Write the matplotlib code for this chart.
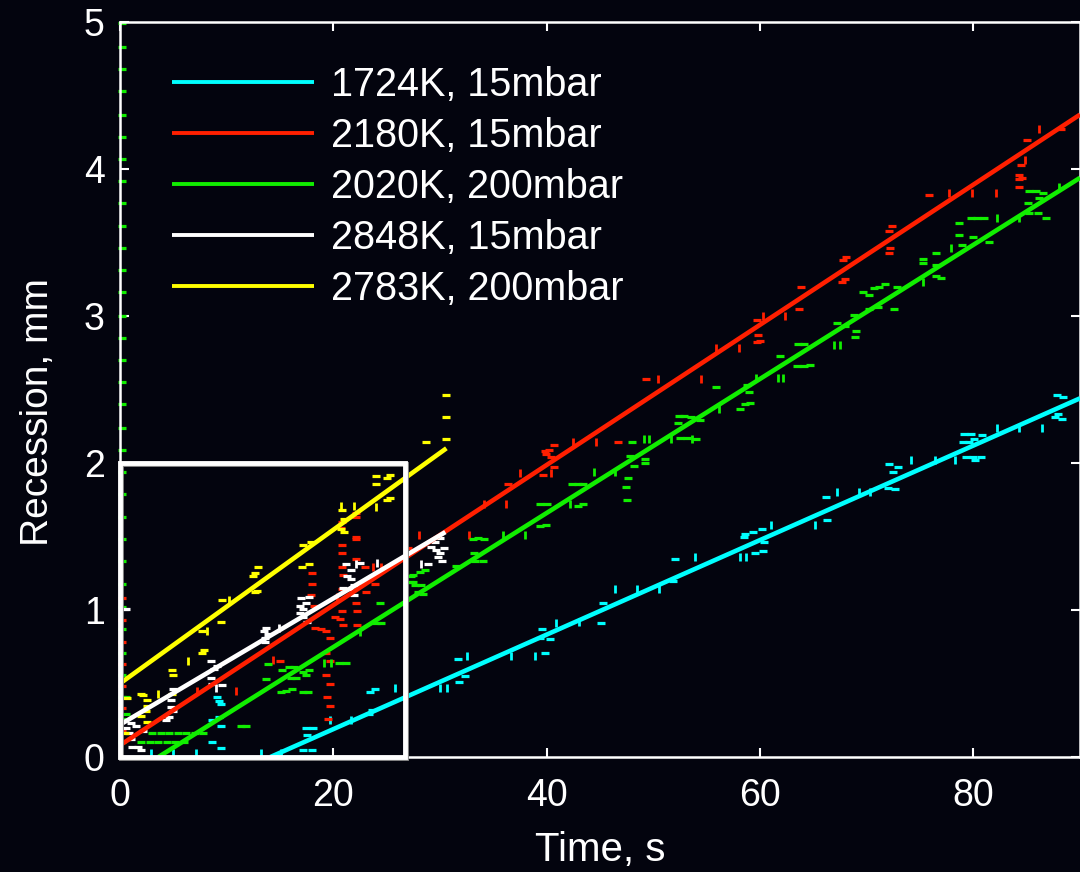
import numpy as np
import matplotlib.pyplot as plt
from matplotlib.patches import Rectangle

plt.rcParams['font.family'] = ['Liberation Sans', 'DejaVu Sans']

BG = '#03040e'

labels = ['1724K, 15mbar', '2180K, 15mbar', '2020K, 200mbar',
          '2848K, 15mbar', '2783K, 200mbar']
colors = ['#00ffff', '#ff1f00', '#11ee00', '#ffffff', '#ffff00']

# linear fits (end points)
cyan_fit_x = [14.1, 90.0]
cyan_fit_y = [0.0, 2.44]
red_fit_x = [0.0, 90.0]
red_fit_y = [0.08, 4.37]
green_fit_x = [3.6, 90.0]
green_fit_y = [0.0, 3.94]
white_fit_x = [0.0, 30.5]
white_fit_y = [0.22, 1.53]
yellow_fit_x = [0.0, 30.6]
yellow_fit_y = [0.50, 2.10]

# measured edge positions, h = horizontal dash, v = vertical tick
cyan_x = [2.9, 5.0, 7.1, 8.6, 9.5, 8.6, 9.3, 9.5, 9.1, 9.3, 9.5,
          13.2, 15.1, 17.2, 18.0, 17.4, 18.1, 17.5,
          19.7, 21.7, 23.3, 23.6, 23.4, 23.9, 25.8,
          30.0, 30.7, 31.7, 32.5, 32.3, 31.8,
          36.7, 38.9, 39.8, 40.3, 39.6, 39.4,
          40.9, 43.0, 45.1, 45.3, 46.4, 48.5, 50.5, 51.8, 52.0, 53.9,
          58.1, 58.7, 59.5, 60.3, 60.4, 58.5, 58.6, 59.3, 60.2, 61.0,
          65.2, 66.3, 66.2, 67.2, 69.3, 70.3, 72.0, 72.7, 72.1, 72.9, 72.5,
          74.2, 76.4, 78.3, 79.3, 80.0, 80.7, 80.2, 79.1, 79.8, 80.8, 80.1, 79.0, 79.6,
          82.2, 84.3, 86.4, 87.8, 88.4, 87.9, 88.3, 87.7]
cyan_y = [0.03, 0.03, 0.03, 0.10, 0.06, 0.25, 0.27, 0.21, 0.41, 0.38, 0.36,
          0.03, 0.03, 0.05, 0.05, 0.20, 0.20, 0.15,
          0.25, 0.25, 0.29, 0.32, 0.44, 0.46, 0.47,
          0.47, 0.47, 0.67, 0.69, 0.55, 0.51,
          0.69, 0.69, 0.71, 0.80, 0.87, 0.81,
          0.91, 0.92, 0.91, 1.05, 1.14, 1.14, 1.14, 1.20, 1.35, 1.36,
          1.36, 1.36, 1.39, 1.40, 1.46, 1.50, 1.52, 1.53, 1.55, 1.58,
          1.58, 1.61, 1.77, 1.80, 1.80, 1.80, 1.83, 1.82, 1.99, 1.97, 1.94,
          2.02, 2.02, 2.02, 2.04, 2.04, 2.04, 2.02, 2.20, 2.20, 2.19, 2.16, 2.14, 2.14,
          2.24, 2.24, 2.24, 2.46, 2.45, 2.33, 2.30, 2.31]
cyan_kind = ('vvvhhhhhhhh' 'vvhhhhh' 'vvhhhhv' 'vvhvhh' 'vvhhhh'
             'vvhhvvvhhv' 'vvhhhhhhhv' 'vhhvvvhhhhh'
             'vvvhhhhhhhhhh' 'vvvhhhhh')

red_x = [0.2, 0.2, 0.2, 0.2, 0.2, 0.2, 0.2,
         7.2, 10.9, 14.3, 15.0,
         19.3, 19.7, 19.3, 19.7, 19.4, 19.7, 19.5,
         22.1, 22.1, 20.8, 20.7, 22.1, 22.1, 20.8, 20.8, 22.1, 20.8,
         18.0, 18.0, 20.9, 23.0, 23.7, 24.5, 23.9, 23.1, 22.1, 22.2,
         20.8, 20.8, 20.2, 20.6, 20.9, 22.2, 17.9, 18.2, 18.3, 18.8,
         19.3, 19.7, 20.3, 27.0,
         28.0, 32.7, 34.1, 36.2, 36.4, 37.5, 39.7, 40.4, 40.7, 39.8,
         40.2, 40.7, 39.9, 40.4, 42.5, 44.6, 46.7, 49.3, 50.4, 54.5,
         55.9, 58.0, 59.7, 60.0, 59.8, 59.7, 60.3, 62.3, 63.7, 63.8,
         67.7, 68.0, 67.8, 68.1, 72.1, 72.2, 72.1, 72.4, 75.8, 77.7,
         79.9, 82.1, 84.3, 84.3, 84.6, 84.3, 84.8, 84.5, 85.0, 86.2, 88.2]
red_y = [1.08, 0.93, 0.78, 0.63, 0.48, 0.33, 0.18,
         0.45, 0.45, 0.66, 0.65,
         0.71, 0.65, 0.56, 0.50, 0.41, 0.35, 0.26,
         1.66, 1.63, 1.60, 1.56, 1.50, 1.48, 1.44, 1.39, 1.35, 1.29,
         1.25, 1.18, 1.24, 1.29, 1.29, 1.29, 1.18, 1.12, 1.05, 0.99,
         0.99, 1.14, 0.95, 0.94, 0.90, 0.90, 1.10, 1.03, 0.88, 0.87,
         0.86, 0.81, 1.09, 1.42,
         1.51, 1.51, 1.72, 1.72, 1.86, 1.93, 1.92, 1.93, 1.97, 2.08,
         2.09, 2.12, 2.06, 2.04, 2.14, 2.14, 2.14, 2.57, 2.57, 2.57,
         2.78, 2.78, 2.82, 2.83, 2.87, 2.97, 3.00, 3.00, 3.05, 3.20,
         3.23, 3.25, 3.38, 3.40, 3.43, 3.46, 3.58, 3.61, 3.82, 3.84,
         3.84, 3.84, 3.88, 3.93, 3.94, 3.96, 4.06, 4.03, 4.20, 4.27, 4.27]
red_kind = ('hhhhhhh' 'vvvh' 'hhhhhhh' 'hhhhhhhhhh' 'hhhhvvhhhh'
            'hhhhhhhhhh' 'hhvh' 'vvvvhvhvhh' 'hhhhvvhhvv'
            'vvhhhhvvhh' 'hhhhhhhhhv' 'vvhhhhvhhvh')

green_x = [0.2] * 33 + [
    3.0, 3.8, 4.6, 5.4, 6.2, 7.0, 7.8, 2.0, 2.8, 3.6, 4.4, 5.2, 6.0,
    0.6, 0.6, 11.3, 11.8,
    13.9, 15.2, 15.8, 16.3, 17.2, 17.7, 17.4, 16.0, 16.5, 13.7,
    15.1, 15.6, 16.1, 17.2, 17.6, 19.1, 19.8, 20.5, 21.2,
    24.4, 24.0, 24.5, 22.5, 27.5, 27.5,
    33.1, 33.6, 34.1, 35.9, 38.0, 33.2, 33.3, 34.0, 31.5, 28.1,
    28.6, 27.3, 27.2, 27.7, 28.2, 27.9, 28.4,
    39.4, 39.9, 39.4, 40.0, 42.2, 42.9, 43.4, 42.4, 42.9, 43.4,
    44.4, 46.4, 47.5, 47.4, 47.6, 48.2, 49.2, 49.2, 47.8, 48.0,
    49.1, 49.6, 51.7, 52.5, 53.2, 53.6, 54.0, 52.4, 52.9, 52.3,
    53.5, 54.4, 56.2, 55.9,
    58.1, 58.6, 59.1, 59.0, 58.8, 59.6, 61.7, 62.2, 61.9, 63.5,
    64.1, 64.7, 63.6, 64.1, 66.9, 67.5, 67.2, 68.0, 68.9, 69.0,
    68.8, 70.2, 71.1, 72.6, 69.7, 70.2, 70.7, 71.2, 71.7, 72.8,
    75.3, 76.5, 77.0, 75.3, 75.3, 76.5, 77.9, 76.5, 78.7, 78.9,
    80.0, 81.5, 78.7, 79.8, 80.3, 81.0, 82.2, 84.3, 85.2, 86.1,
    86.8, 85.1, 86.2, 85.2, 85.9, 86.5, 88.0]
green_y = [4.99, 4.83, 4.68, 4.53, 4.37, 4.22, 4.07, 3.92, 3.77, 3.61, 3.46,
           3.31, 3.16, 3.00, 2.85, 2.70, 2.55, 2.40, 2.24, 2.09, 1.94, 1.79,
           1.63, 1.48, 1.33, 1.18, 1.02, 0.87, 0.71, 0.56, 0.41, 0.26, 0.10] + [
    0.16, 0.16, 0.16, 0.16, 0.16, 0.16, 0.16, 0.10, 0.10, 0.10, 0.10, 0.10, 0.10,
    0.41, 0.29, 0.21, 0.21,
    0.63, 0.59, 0.61, 0.61, 0.58, 0.59, 0.56, 0.54, 0.54, 0.53,
    0.44, 0.45, 0.46, 0.44, 0.44, 0.64, 0.64, 0.64, 0.64,
    1.05, 0.91, 0.91, 0.85, 1.24, 1.19,
    1.48, 1.49, 1.48, 1.51, 1.51, 1.39, 1.33, 1.33, 1.30, 1.26,
    1.27, 1.23, 1.19, 1.17, 1.17, 1.12, 1.11,
    1.57, 1.58, 1.72, 1.72, 1.72, 1.71, 1.72, 1.86, 1.86, 1.86,
    1.94, 1.94, 1.75, 1.84, 1.90, 1.98, 2.00, 2.03, 2.05, 2.14,
    2.16, 2.16, 2.16, 2.17, 2.17, 2.16, 2.16, 2.32, 2.32, 2.27,
    2.31, 2.29, 2.37, 2.52,
    2.37, 2.40, 2.41, 2.48, 2.53, 2.58, 2.58, 2.58, 2.73, 2.66,
    2.66, 2.67, 2.81, 2.81, 2.80, 2.80, 2.95, 2.93, 2.86, 2.90,
    3.01, 3.05, 3.06, 3.05, 3.16, 3.14, 3.19, 3.20, 3.22, 3.20,
    3.23, 3.27, 3.26, 3.36, 3.39, 3.43, 3.46, 3.35, 3.55, 3.48,
    3.54, 3.50, 3.63, 3.67, 3.67, 3.67, 3.67, 3.67, 3.70, 3.70,
    3.67, 3.77, 3.80, 3.85, 3.85, 3.84, 3.88]
green_kind = 'h' * 33 + ('hhhhhhhhhhhhh' 'hhhh' 'hhhhhhhhhh' 'hhhhhvvhh'
                         'hhhvhh' 'hhhvvhhhhh' 'hhhhhhh' 'hhhhvhhhhh'
                         'vvhhhhhhhh' 'vvvhhvhhhh' 'hhvh'
                         'hhhhhvvvhh' 'hhhhvvhhhh' 'hhhhhhhhhh'
                         'vhhhhhvhhh' 'hhhhhhvvhh' 'hhhhhhv')

white_x = [0.6, 1.0, 1.5, 2.2, 0.6, 0.8, 1.0, 1.1, 1.7, 2.0,
           4.3, 4.6, 5.0, 4.8, 4.8, 5.0,
           8.5, 9.1, 8.8, 8.5, 8.6, 9.0, 9.6,
           13.7, 13.5, 13.9, 13.6, 13.6, 14.9,
           17.0, 17.4, 16.9, 17.2, 16.9, 17.2, 17.5, 17.7,
           21.2, 21.7, 21.3, 21.7, 21.9, 22.1, 22.5, 24.1, 21.5, 20.9, 21.9,
           30.0, 29.5, 29.2, 29.6, 30.4, 30.0, 29.8, 30.2, 28.9, 28.2]
white_y = [1.01, 0.23, 0.21, 0.18, 0.20, 0.16, 0.12, 0.07, 0.07, 0.05,
           0.25, 0.27, 0.31, 0.34, 0.39, 0.46,
           0.65, 0.62, 0.60, 0.54, 0.50, 0.47, 0.49,
           0.88, 0.86, 0.84, 0.81, 0.78, 0.88,
           1.08, 1.05, 1.03, 1.01, 0.98, 0.95, 0.92, 1.09,
           1.31, 1.27, 1.23, 1.21, 1.17, 1.31, 1.32, 1.32, 1.14, 1.15, 1.10,
           1.49, 1.46, 1.43, 1.41, 1.42, 1.39, 1.36, 1.33, 1.31, 1.31]
white_kind = ('hhhhhhhhhh' 'hhhhhh' 'hhhhhvh' 'hhhhhv' 'hhhhhhhh'
              'hhhhhvhvhhh' 'hhhhhhhhhv')

yellow_x = [0.7, 0.5, 2.0, 2.2, 2.5, 2.5, 2.4, 2.0, 2.5, 3.6, 4.9, 4.9, 5.0,
            6.4, 7.7, 7.9, 7.7, 8.2, 9.5, 9.6, 10.2, 12.7, 12.7, 12.9,
            12.5, 12.8, 17.2, 17.9, 17.7, 17.1,
            20.7, 20.8, 21.9, 21.0, 20.7, 21.0, 24.0, 24.0, 24.0, 25.0,
            25.3, 25.0, 25.3, 28.7, 30.6, 30.6, 30.6]
yellow_y = [0.40, 0.16, 0.43, 0.42, 0.39, 0.35, 0.31, 0.28, 0.24, 0.43, 0.43, 0.59, 0.56,
            0.65, 0.71, 0.73, 0.86, 0.86, 0.92, 1.07, 1.07, 1.12, 1.25, 1.29,
            1.23, 1.13, 1.44, 1.46, 1.31, 1.29,
            1.71, 1.68, 1.71, 1.62, 1.55, 1.53, 1.70, 1.91, 1.86, 1.90,
            1.92, 1.75, 1.76, 2.14, 2.46, 2.31, 2.16]
yellow_kind = ('hhhhhhhhhvhhh' 'vhhhvhhvhhh' 'hhhhhh' 'vhvhhhvhhh'
               'hhhhhhh')

series = [
    (cyan_x, cyan_y, cyan_kind, cyan_fit_x, cyan_fit_y),
    (red_x, red_y, red_kind, red_fit_x, red_fit_y),
    (green_x, green_y, green_kind, green_fit_x, green_fit_y),
    (white_x, white_y, white_kind, white_fit_x, white_fit_y),
    (yellow_x, yellow_y, yellow_kind, yellow_fit_x, yellow_fit_y),
]

# zoomed window outline
box_x, box_y = 0.0, 0.0
box_w, box_h = 26.7, 2.0

fig = plt.figure(figsize=(10.8, 8.72), dpi=100, facecolor=BG)
ax = fig.add_axes([120 / 1080, 1 - 757 / 872, 960 / 1080, 735 / 872])
ax.set_facecolor(BG)

for (px, py, kind, fx, fy), col in zip(series, colors):
    px = np.array(px)
    py = np.array(py)
    k = np.array(list(kind))
    hz = k == 'h'
    ax.plot(px[hz], py[hz], ls='none', marker='_', ms=5.5, mew=2.3,
            color=col, zorder=2, clip_on=False)
    ax.plot(px[~hz], py[~hz], ls='none', marker='|', ms=5.5, mew=2.0,
            color=col, zorder=2, clip_on=False)

handles = []
for (px, py, kind, fx, fy), col, lab in zip(series, colors, labels):
    h, = ax.plot(fx, fy, color=col, lw=3.3, solid_capstyle='butt',
                 zorder=3, label=lab)
    handles.append(h)

# slight grey shadow under the window outline
ax.add_patch(Rectangle((box_x + 0.1, box_y - 0.01), box_w, box_h, fill=False,
                       ec='#8a8a8a', lw=3.5, zorder=4, clip_on=False))
ax.add_patch(Rectangle((box_x, box_y), box_w, box_h, fill=False,
                       ec='white', lw=3.5, zorder=5, clip_on=False))

ax.set_xlim(0, 90)
ax.set_ylim(0, 5)
ax.set_xticks([0, 20, 40, 60, 80])
ax.set_yticks([0, 1, 2, 3, 4, 5])

for s in ax.spines.values():
    s.set_color('white')
    s.set_linewidth(1.8)

ax.tick_params(direction='in', length=6.5, width=1.5, color='white',
               labelcolor='white', labelsize=27, top=True, right=True)
ax.tick_params(axis='x', pad=15)
ax.tick_params(axis='y', pad=11)

ax.set_xlabel('Time, s', color='white', fontsize=29)
ax.set_ylabel('Recession, mm', color='white', fontsize=28)
ax.xaxis.set_label_coords(0.5, -0.1)
ax.yaxis.set_label_coords(-0.067, 0.47)

leg = ax.legend(handles=handles, loc='upper left', bbox_to_anchor=(0.054, 0.94),
                frameon=False, fontsize=28.5, handlelength=3.6, handletextpad=0.42,
                labelspacing=0.33, borderpad=0, borderaxespad=0)
for t in leg.get_texts():
    t.set_color('white')
for ln in leg.get_lines():
    ln.set_linewidth(2.8)

fig.savefig('out.png', dpi=100, facecolor=BG)
